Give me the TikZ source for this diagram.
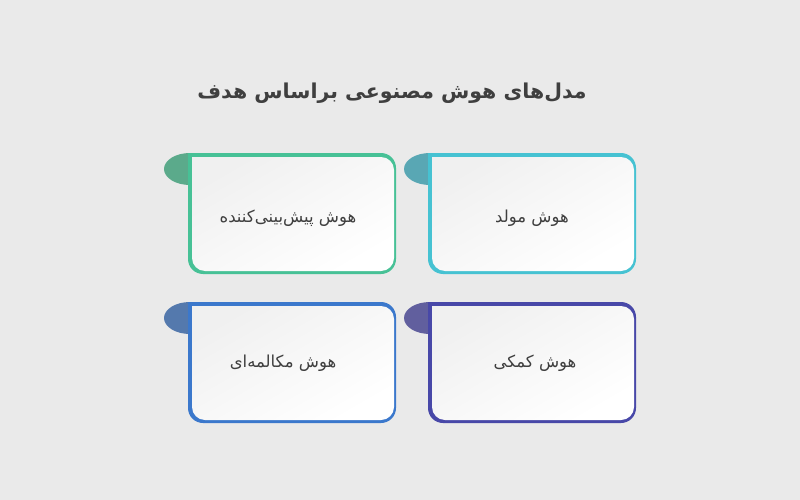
\documentclass[tikz,border=0pt]{standalone}
\usepackage{fontspec}
\newfontfamily\farsi[Script=Arabic]{DejaVu Sans}
\TeXXeTstate=1
\definecolor{bg}{HTML}{EAEAEA}
\definecolor{ink}{HTML}{3F3F3F}
\definecolor{cardtop}{HTML}{F0F0F0}
\definecolor{greenb}{HTML}{47C196}
\definecolor{greent}{HTML}{5BAA8B}
\definecolor{cyanb}{HTML}{46C2D2}
\definecolor{cyant}{HTML}{59A7B4}
\definecolor{blueb}{HTML}{3B78CC}
\definecolor{bluet}{HTML}{5479AD}
\definecolor{indigob}{HTML}{4848A8}
\definecolor{indigot}{HTML}{615F9E}

\begin{document}
\begin{tikzpicture}[x=1pt,y=-1pt,
        frame/.style={rounded corners=15pt},
        face/.style={rounded corners=13pt,top color=cardtop,bottom color=white,shading angle=30},
        label/.style={font=\farsi\fontsize{16.5}{20}\selectfont,text=ink,inner sep=0pt}]
        \fill[bg] (0,0) rectangle (800,500);
        \node[font=\farsi\bfseries\fontsize{20.5}{25}\selectfont,text=ink] (title) at (392,93) {\beginR مدل‌های هوش مصنوعی براساس هدف\endR};
        % top row
        \fill[greent] (190,169) ellipse (26 and 16);
        \fill[greenb,frame] (188,153) rectangle (396,274);
        \fill[greenb] (188,153) rectangle (215,180);
        \shade[face] (192,157) rectangle (394,271);
        \fill[cardtop] (192,157) rectangle (207,172);
        \node[label] (predict) at (288,218) {\beginR هوش پیش‌بینی‌کننده\endR};
        \fill[cyant] (430,169) ellipse (26 and 16);
        \fill[cyanb,frame] (428,153) rectangle (636,274);
        \fill[cyanb] (428,153) rectangle (455,180);
        \shade[face] (432,157) rectangle (634,271);
        \fill[cardtop] (432,157) rectangle (447,172);
        \node[label] (gen) at (532,218) {\beginR هوش مولد\endR};
        % bottom row
        \fill[bluet] (190,318) ellipse (26 and 16);
        \fill[blueb,frame] (188,302) rectangle (396,423);
        \fill[blueb] (188,302) rectangle (215,329);
        \shade[face] (192,306) rectangle (394,420);
        \fill[cardtop] (192,306) rectangle (207,321);
        \node[label] (chat) at (283,363) {\beginR هوش مکالمه‌ای\endR};
        \fill[indigot] (430,318) ellipse (26 and 16);
        \fill[indigob,frame] (428,302) rectangle (636,423);
        \fill[indigob] (428,302) rectangle (455,329);
        \shade[face] (432,306) rectangle (634,420);
        \fill[cardtop] (432,306) rectangle (447,321);
        \node[label] (assist) at (535,363) {\beginR هوش کمکی\endR};
    \end{tikzpicture}
\end{document}
